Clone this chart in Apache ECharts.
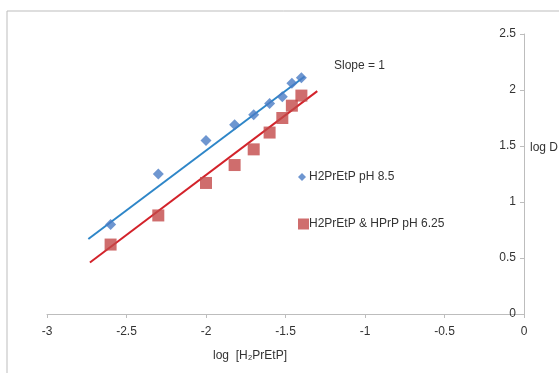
<!DOCTYPE html>
<html><head><meta charset="utf-8">
<script src="https://cdn.jsdelivr.net/npm/echarts@6/dist/echarts.min.js"></script>
<style>html,body{margin:0;padding:0;background:#fff}#c{width:559px;height:373px}</style>
</head><body><div id="c"></div>
<script>
var xBlue = [-2.6, -2.3, -2.0, -1.82, -1.7, -1.6, -1.52, -1.46, -1.4];
var yBlue = [0.80, 1.25, 1.55, 1.69, 1.78, 1.88, 1.94, 2.06, 2.11];
var xRed = [-2.6, -2.3, -2.0, -1.82, -1.7, -1.6, -1.52, -1.46, -1.4];
var yRed = [0.62, 0.88, 1.17, 1.33, 1.47, 1.62, 1.75, 1.86, 1.95];
var trendBlueX = [-2.74, -1.38];
var trendBlueY = [0.67, 2.12];
var trendRedX = [-2.73, -1.30];
var trendRedY = [0.46, 1.99];
var nameBlue = 'H2PrEtP pH 8.5';
var nameRed = 'H2PrEtP & HPrP pH 6.25';

function zip(a, b) { return a.map(function (v, i) { return [v, b[i]]; }); }
var font = 'Liberation Sans, Arial, sans-serif';
var chart = echarts.init(document.getElementById('c'));
chart.setOption({
  animation: false,
  textStyle: { fontFamily: font },
  grid: { left: 47, right: 35, top: 34, bottom: 59 },
  xAxis: {
    type: 'value', min: -3, max: 0, interval: 0.5,
    axisLine: { onZero: false, lineStyle: { color: '#bdbdbd' } },
    axisTick: { show: true, length: 4, lineStyle: { color: '#bdbdbd' } },
    axisLabel: { color: '#333', fontSize: 12, margin: 12, fontFamily: font },
    splitLine: { show: false }
  },
  yAxis: {
    type: 'value', position: 'right', min: 0, max: 2.5, interval: 0.5,
    axisLine: { show: true, lineStyle: { color: '#bdbdbd' } },
    axisTick: { show: true, inside: true, length: 4, lineStyle: { color: '#bdbdbd' } },
    axisLabel: { inside: true, color: '#333', fontSize: 12, margin: 8, fontFamily: font },
    splitLine: { show: false }
  },
  legend: [
    { left: 293, top: 166, itemWidth: 8, itemHeight: 8, itemGap: 0,
      textStyle: { fontSize: 12, color: '#333', fontFamily: font, padding: [0, 0, 0, -2] },
      data: [{ name: nameBlue, icon: 'diamond' }] },
    { left: 293, top: 213, itemWidth: 11, itemHeight: 11,
      textStyle: { fontSize: 12, color: '#333', fontFamily: font, padding: [0, 0, 0, -5] },
      data: [{ name: nameRed, icon: 'rect' }] }
  ],
  graphic: [
    { type: 'rect', shape: { x: 7, y: 11, width: 620, height: 420 }, style: { fill: 'none', stroke: '#bdbdbd', lineWidth: 1 }, silent: true },
    { type: 'text', left: 334, top: 60, style: { text: 'Slope = 1', fontSize: 12, fill: '#333', fontFamily: font } },
    { type: 'text', left: 530, top: 142, style: { text: 'log D', fontSize: 12, fill: '#333', fontFamily: font } },
    { type: 'text', left: 213, top: 350, style: { text: 'log  [H\u2082PrEtP]', fontSize: 12, fill: '#333', fontFamily: font } }
  ],
  series: [
    { type: 'line', data: zip(trendBlueX, trendBlueY), symbol: 'none', lineStyle: { color: '#2e86c8', width: 2 }, z: 1, silent: true },
    { type: 'line', data: zip(trendRedX, trendRedY), symbol: 'none', lineStyle: { color: '#d3222a', width: 2 }, z: 1, silent: true },
    { name: nameBlue, type: 'scatter', data: zip(xBlue, yBlue), symbol: 'diamond', symbolSize: 11, itemStyle: { color: '#4a7cc4' }, z: 3 },
    { name: nameRed, type: 'scatter', data: zip(xRed, yRed), symbol: 'rect', symbolSize: 12, itemStyle: { color: '#c34848' }, z: 3 }
  ]
});
</script></body></html>
